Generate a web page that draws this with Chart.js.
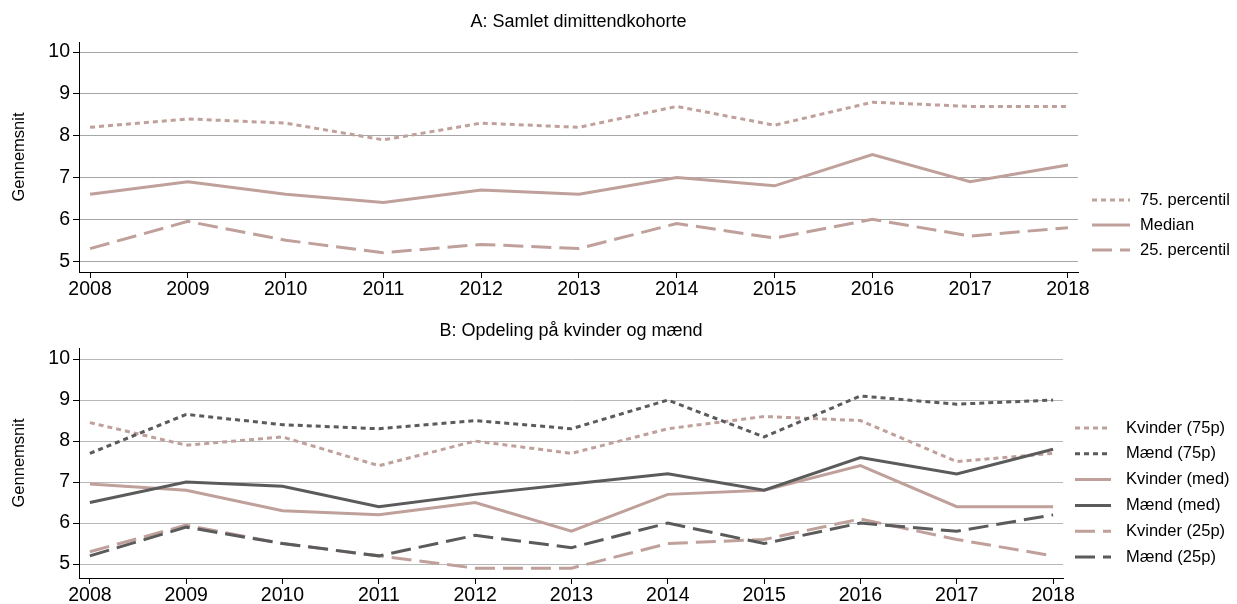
<!DOCTYPE html>
<html lang="da">
<head>
<meta charset="utf-8">
<title>Gennemsnit 2008-2018</title>
<script src="https://cdn.jsdelivr.net/npm/chart.js@4.4.1/dist/chart.umd.min.js"></script>
<style>
  body { margin: 0; background: #fff; }
  canvas { display: block; }
</style>
</head>
<body>
<canvas id="panelA" width="1237" height="305"></canvas>
<canvas id="panelB" width="1237" height="299"></canvas>
<script>
const years = [2008, 2009, 2010, 2011, 2012, 2013, 2014, 2015, 2016, 2017, 2018];
const yTicks = [5, 6, 7, 8, 9, 10];

// Panel A: hele dimittendkohorten
const samletP75 = [8.2, 8.4, 8.3, 7.9, 8.3, 8.2, 8.7, 8.25, 8.8, 8.7, 8.7];
const samletMedian = [6.6, 6.9, 6.6, 6.4, 6.7, 6.6, 7.0, 6.8, 7.55, 6.9, 7.3];
const samletP25 = [5.3, 5.95, 5.5, 5.2, 5.4, 5.3, 5.9, 5.55, 6.0, 5.6, 5.8];

// Panel B: kvinder og mænd
const kvinderP75 = [8.45, 7.9, 8.1, 7.4, 8.0, 7.7, 8.3, 8.6, 8.5, 7.5, 7.7];
const maendP75 = [7.7, 8.65, 8.4, 8.3, 8.5, 8.3, 9.0, 8.1, 9.1, 8.9, 9.0];
const kvinderMed = [6.95, 6.8, 6.3, 6.2, 6.5, 5.8, 6.7, 6.8, 7.4, 6.4, 6.4];
const maendMed = [6.5, 7.0, 6.9, 6.4, 6.7, 6.95, 7.2, 6.8, 7.6, 7.2, 7.8];
const kvinderP25 = [5.3, 5.95, 5.5, 5.2, 4.9, 4.9, 5.5, 5.6, 6.1, 5.6, 5.2];
const maendP25 = [5.2, 5.9, 5.5, 5.2, 5.7, 5.4, 6.0, 5.5, 6.0, 5.8, 6.2];

const FONT = '"Liberation Sans", Arial, sans-serif';
const rose = '#bfa09b';
const grey = '#5b5b5b';
const dotted = [5, 4];
const dashed = [20, 8];

function line(label, values, color, dash) {
    return {
        label: label,
        data: values.map((v, i) => ({ x: years[i], y: v })),
        borderColor: color,
        backgroundColor: color,
        borderWidth: 3,
        borderDash: dash,
        borderCapStyle: 'butt',
        pointRadius: 0,
        tension: 0
    };
}

// legend on the right, drawn with each dataset's own line style
const sideLegend = {
    id: 'sideLegend',
    afterDraw(chart, args, opts) {
        const ctx = chart.ctx;
        ctx.save();
        ctx.font = opts.fontSize + 'px ' + FONT;
        ctx.textBaseline = 'middle';
        ctx.fillStyle = '#000';
        chart.data.datasets.forEach((ds, i) => {
            const y = opts.top + i * opts.rowHeight;
            ctx.strokeStyle = ds.borderColor;
            ctx.lineWidth = ds.borderWidth;
            ctx.lineCap = 'butt';
            ctx.setLineDash(ds.borderDash || []);
            ctx.beginPath();
            ctx.moveTo(opts.left, y);
            ctx.lineTo(opts.left + opts.lineLength, y);
            ctx.stroke();
            ctx.setLineDash([]);
            ctx.fillText(ds.label, opts.textLeft, y);
        });
        ctx.restore();
    }
};

function createPanel(id, title, datasets, p) {
    // later series are drawn on top
    datasets.forEach((ds, i) => { ds.order = datasets.length - i; });
    new Chart(document.getElementById(id), {
        type: 'line',
        data: { datasets: datasets },
        plugins: [sideLegend],
        options: {
            responsive: false,
            animation: false,
            events: [],
            layout: { padding: { left: 0, right: p.right, top: 0, bottom: 0 } },
            plugins: {
                legend: { display: false },
                tooltip: { enabled: false },
                title: {
                    display: true,
                    text: title,
                    fullSize: false,
                    color: '#000',
                    font: { family: FONT, size: 18, weight: 'normal' },
                    padding: { top: p.titleTop, bottom: p.titleBottom }
                },
                sideLegend: p.legend
            },
            scales: {
                x: {
                    type: 'linear',
                    min: 2007.887,
                    max: 2018.103,
                    afterBuildTicks: (axis) => { axis.ticks = years.map(v => ({ value: v })); },
                    afterFit: (axis) => { axis.height = p.xHeight; },
                    grid: { drawOnChartArea: false, tickLength: 6, tickColor: '#000' },
                    border: { color: '#000', width: 1 },
                    ticks: {
                        callback: (v) => String(v),
                        autoSkip: false,
                        maxRotation: 0,
                        padding: 0,
                        color: '#000',
                        font: { family: FONT, size: 19.5 }
                    }
                },
                y: {
                    type: 'linear',
                    min: p.yMin,
                    max: p.yMax,
                    afterBuildTicks: (axis) => { axis.ticks = yTicks.map(v => ({ value: v })); },
                    afterFit: (axis) => { axis.width = 79; },
                    grid: { color: p.gridColor, lineWidth: 1, tickLength: 6, tickColor: '#000' },
                    border: { color: '#000', width: 1 },
                    ticks: { padding: 3, color: '#000', font: { family: FONT, size: 19.5 } },
                    title: {
                        display: true,
                        text: 'Gennemsnit',
                        color: '#000',
                        font: { family: FONT, size: 16.5 },
                        padding: { top: 10, bottom: 0 }
                    }
                }
            }
        }
    });
}

createPanel('panelA', 'A: Samlet dimittendkohorte', [
    line('75. percentil', samletP75, rose, dotted),
    line('Median', samletMedian, rose, []),
    line('25. percentil', samletP25, rose, dashed)
], {
    right: 159, titleTop: 11, titleBottom: 9.4, xHeight: 33,
    yMin: 4.74, yMax: 10.24, gridColor: '#a6a6a6',
    legend: { left: 1092, lineLength: 38, textLeft: 1140, top: 200, rowHeight: 25, fontSize: 16.5 }
});

createPanel('panelB', 'B: Opdeling på kvinder og mænd', [
    line('Kvinder (75p)', kvinderP75, rose, dotted),
    line('Mænd (75p)', maendP75, grey, dotted),
    line('Kvinder (med)', kvinderMed, rose, []),
    line('Mænd (med)', maendMed, grey, []),
    line('Kvinder (25p)', kvinderP25, rose, dashed),
    line('Mænd (25p)', maendP25, grey, dashed)
], {
    right: 174, titleTop: 15, titleBottom: 6.4, xHeight: 26,
    yMin: 4.66, yMax: 10.27, gridColor: '#b8b8b8',
    legend: { left: 1075, lineLength: 36, textLeft: 1126, top: 123, rowHeight: 25.8, fontSize: 16.5 }
});
</script>
</body>
</html>
